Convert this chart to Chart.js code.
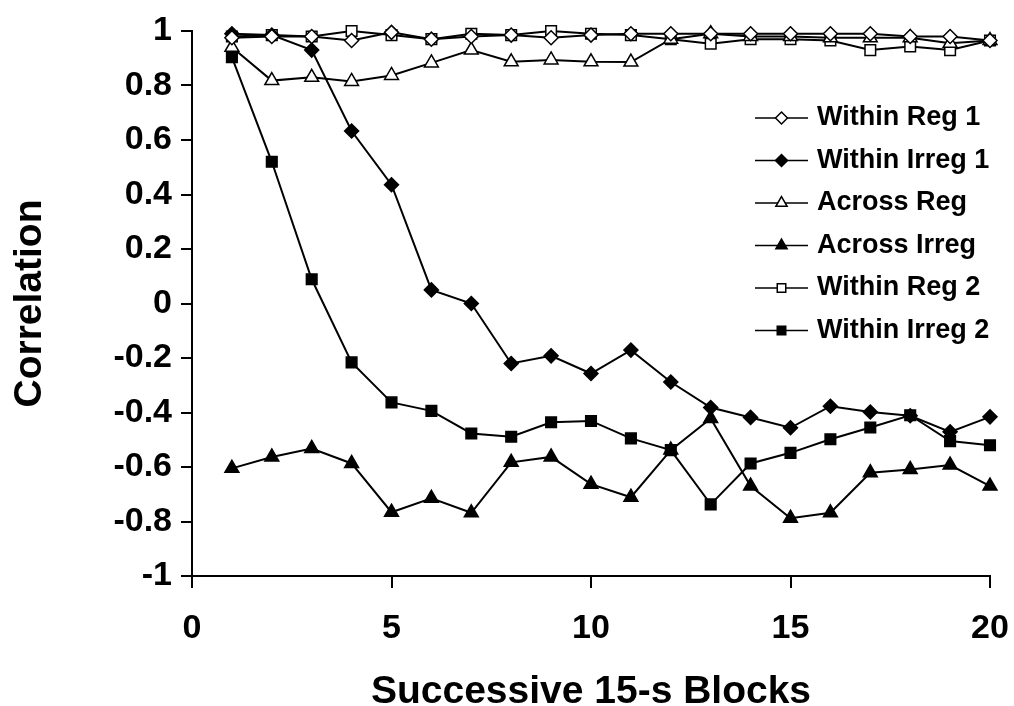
<!DOCTYPE html>
<html>
<head>
<meta charset="utf-8">
<script src="https://cdn.jsdelivr.net/npm/chart.js@4.4.1/dist/chart.umd.min.js"></script>
<style>
  html, body { margin: 0; padding: 0; background: #fff; }
  #wrap { width: 1014px; height: 706px; }
</style>
</head>
<body>
<div id="wrap"><canvas id="chart" width="1014" height="706"></canvas></div>
<script>
// Block index (successive 15-s blocks)
const blocks = [1, 2, 3, 4, 5, 6, 7, 8, 9, 10, 11, 12, 13, 14, 15, 16, 17, 18, 19, 20];

// Correlation per block for each condition
const withinReg1   = [0.975, 0.98, 0.98, 0.965, 0.995, 0.97, 0.98, 0.985, 0.975, 0.985, 0.99, 0.99, 0.99, 0.99, 0.99, 0.99, 0.99, 0.98, 0.98, 0.965];
const withinIrreg1 = [0.99, 0.985, 0.93, 0.633, 0.436, 0.05, 0.0, -0.22, -0.192, -0.257, -0.171, -0.288, -0.382, -0.418, -0.456, -0.377, -0.398, -0.412, -0.471, -0.416];
const acrossReg    = [0.94, 0.818, 0.83, 0.815, 0.837, 0.883, 0.93, 0.887, 0.894, 0.887, 0.886, 0.97, 0.99, 0.98, 0.98, 0.975, 0.975, 0.975, 0.955, 0.965];
const acrossIrreg  = [-0.605, -0.563, -0.532, -0.587, -0.766, -0.715, -0.768, -0.583, -0.563, -0.663, -0.711, -0.538, -0.422, -0.67, -0.788, -0.768, -0.621, -0.609, -0.593, -0.67];
const withinReg2   = [0.98, 0.985, 0.98, 1.0, 0.985, 0.97, 0.99, 0.985, 1.0, 0.99, 0.985, 0.97, 0.953, 0.97, 0.97, 0.965, 0.93, 0.943, 0.93, 0.965];
const withinIrreg2 = [0.904, 0.52, 0.089, -0.216, -0.363, -0.394, -0.477, -0.489, -0.436, -0.431, -0.495, -0.538, -0.737, -0.587, -0.548, -0.498, -0.455, -0.41, -0.505, -0.52];

const seriesNames = ['Within Reg 1', 'Within Irreg 1', 'Across Reg', 'Across Irreg', 'Within Reg 2', 'Within Irreg 2'];

// Axis tick values and titles
const xTickValues = [0, 5, 10, 15, 20];
const yTickValues = [-1, -0.8, -0.6, -0.4, -0.2, 0, 0.2, 0.4, 0.6, 0.8, 1];
const xTitle = 'Successive 15-s Blocks';
const yTitle = 'Correlation';

const FONT = '"Liberation Sans", Arial, Helvetica, sans-serif';

function pts(values) {
  return blocks.map((b, i) => ({ x: b, y: values[i] }));
}

function series(label, values, style, filled, radius) {
  return {
    label: label,
    data: pts(values),
    borderColor: '#000',
    borderWidth: 2,
    pointStyle: style,
    pointRadius: radius,
    pointBackgroundColor: filled ? '#000' : '#fff',
    pointBorderColor: '#000',
    pointBorderWidth: 1.5,
    tension: 0,
    fill: false,
    clip: false
  };
}

const datasets = [
  series(seriesNames[0], withinReg1,   'rectRot',  false, 7),
  series(seriesNames[1], withinIrreg1, 'rectRot',  true,  7),
  series(seriesNames[2], acrossReg,    'triangle', false, 8),
  series(seriesNames[3], acrossIrreg,  'triangle', true,  8),
  series(seriesNames[4], withinReg2,   'rect',     false, 7.5),
  series(seriesNames[5], withinIrreg2, 'rect',     true,  7.5)
];

// Legend drawn inside the plot area, right side
const insideLegend = {
  id: 'insideLegend',
  afterDraw(chart) {
    const ctx = chart.ctx;
    const area = chart.chartArea;
    const lineX0 = area.right - 235;
    const lineX1 = area.right - 182;
    const markX = (lineX0 + lineX1) / 2;
    const textX = area.right - 173;
    const y0 = area.top + 87;
    const step = 42.5;
    chart.data.datasets.forEach((ds, i) => {
      const y = y0 + i * step;
      ctx.save();
      ctx.strokeStyle = '#000';
      ctx.lineWidth = 1.5;
      ctx.beginPath();
      ctx.moveTo(lineX0, y);
      ctx.lineTo(lineX1, y);
      ctx.stroke();
      ctx.fillStyle = ds.pointBackgroundColor;
      ctx.strokeStyle = '#000';
      ctx.lineWidth = 1.5;
      Chart.helpers.drawPoint(ctx, {
        pointStyle: ds.pointStyle,
        radius: ds.pointStyle === 'triangle' ? 6.5 : 6,
        rotation: 0,
        borderWidth: 1.5
      }, markX, y);
      ctx.fillStyle = '#000';
      ctx.font = 'bold 27px ' + FONT;
      ctx.textAlign = 'left';
      ctx.textBaseline = 'middle';
      ctx.fillText(ds.label, textX, y);
      ctx.restore();
    });
  }
};

function fmt(v) {
  const r = Math.round(v * 10) / 10;
  return r === 0 ? '0' : String(r);
}

new Chart(document.getElementById('chart'), {
  type: 'line',
  data: { datasets: datasets },
  options: {
    responsive: false,
    animation: false,
    events: [],
    layout: { autoPadding: false, padding: { left: 0, top: 31, right: 24, bottom: 0 } },
    plugins: { legend: { display: false }, tooltip: { enabled: false } },
    scales: {
      x: {
        type: 'linear',
        min: 0,
        max: 20,
        afterBuildTicks: (s) => { s.ticks = xTickValues.map(v => ({ value: v })); },
        afterFit: (s) => { s.height = 130; s.paddingLeft = 0; s.paddingRight = 0; },
        grid: { display: true, drawOnChartArea: false, drawTicks: true, tickLength: 12, color: '#000', lineWidth: 2 },
        border: { display: true, color: '#000', width: 2 },
        ticks: {
          color: '#000', padding: 20, maxRotation: 0, autoSkip: false,
          font: { family: FONT, size: 34, weight: 'bold' },
          callback: (v) => fmt(v)
        },
        title: {
          display: true, text: xTitle, color: '#000',
          font: { family: FONT, size: 39, weight: 'bold', lineHeight: 1.0 },
          padding: { top: 0, bottom: -6 }
        }
      },
      y: {
        type: 'linear',
        min: -1,
        max: 1,
        afterBuildTicks: (s) => { s.ticks = yTickValues.map(v => ({ value: v })); },
        afterFit: (s) => { s.width = 192; s.paddingTop = 0; s.paddingBottom = 0; },
        grid: { display: true, drawOnChartArea: false, drawTicks: true, tickLength: 11, color: '#000', lineWidth: 2 },
        border: { display: true, color: '#000', width: 2 },
        ticks: {
          color: '#000', padding: 9, autoSkip: false,
          font: { family: FONT, size: 34, weight: 'bold' },
          callback: (v) => fmt(v)
        },
        title: {
          display: true, text: yTitle, color: '#000',
          font: { family: FONT, size: 39, weight: 'bold', lineHeight: 1.0 },
          padding: { top: 11, bottom: 0 }
        }
      }
    }
  },
  plugins: [insideLegend]
});
</script>
</body>
</html>
